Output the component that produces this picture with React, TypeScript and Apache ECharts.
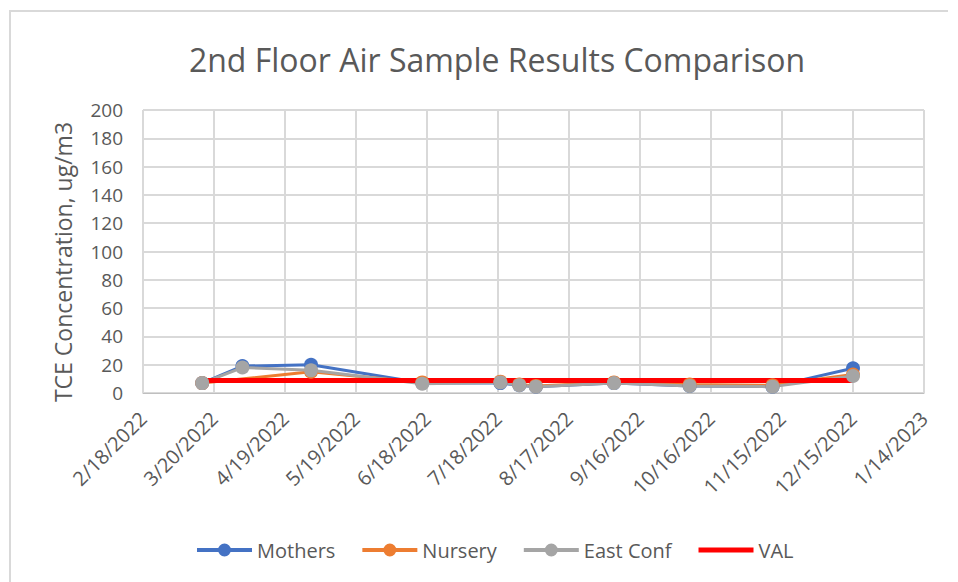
import React, { useEffect, useRef } from "react";
import * as echarts from "echarts";

const dates = [
  "2022-03-15", "2022-04-01", "2022-04-30", "2022-06-16", "2022-07-19",
  "2022-07-27", "2022-08-03", "2022-09-05", "2022-10-07", "2022-11-11", "2022-12-15",
];
const mothers = [7, 19, 20, 7, 7, 5.5, 4.5, 7, 5, 4.5, 17.5];
const nursery = [7, null, 15, 7.5, 8, 6, 5, 7.5, 6, 5.5, 13];
const eastConf = [7, 18, 16, 6.5, 7.5, 5.5, 4.5, 7, 5, 4.5, 12];
const valDates = ["2022-03-15", "2022-12-15"];
const valValues = [8.8, 8.8];

const xMinSerial = 44610; // 2/18/2022
const xMaxSerial = 44940; // 1/14/2023
const xInterval = 30;
const yTicks = [0, 20, 40, 60, 80, 100, 120, 140, 160, 180, 200];

const EPOCH = Date.UTC(1899, 11, 30);
const toSerial = (s: string) => {
  const [y, m, d] = s.split("-").map(Number);
  return Math.round((Date.UTC(y, m - 1, d) - EPOCH) / 86400000);
};
const fromSerial = (n: number) => {
  const dt = new Date(EPOCH + n * 86400000);
  return `${dt.getUTCMonth() + 1}/${dt.getUTCDate()}/${dt.getUTCFullYear()}`;
};

const FONT = "'Open Sans', sans-serif";
const TXT = "#595959";
const MARKER_ICON =
  "path://M0,5H55V9H0Z M21,7a6.5,6.5 0 1,1 13,0a6.5,6.5 0 1,1 -13,0Z";
const LINE_ICON = "path://M0,0H55V5H0Z";

export default function App() {
  const ref = useRef<HTMLDivElement>(null);
  useEffect(() => {
    const chart = echarts.init(ref.current!, undefined, { renderer: "svg" });
    const pair = (vals: (number | null)[]) =>
      dates.map((d, i) => [toSerial(d), vals[i]]);
    const lineSeries = (name: string, vals: (number | null)[], color: string) => ({
      name,
      type: "line",
      data: pair(vals),
      connectNulls: true,
      symbol: "circle",
      symbolSize: 14,
      lineStyle: { color, width: 3 },
      itemStyle: { color },
    });
    chart.setOption({
      animation: false,
      backgroundColor: "#ffffff",
      title: {
        text: "2nd Floor Air Sample Results Comparison",
        left: 492,
        textAlign: "center",
        top: 38,
        textStyle: { fontFamily: FONT, fontSize: 32, fontWeight: "normal", color: TXT },
      },
      legend: {
        top: 535,
        left: 192,
        itemGap: 27,
        itemWidth: 55,
        itemHeight: 13,
        symbolKeepAspect: true,
        textStyle: { fontFamily: FONT, fontSize: 20, color: TXT },
        data: [
          { name: "Mothers", icon: MARKER_ICON },
          { name: "Nursery", icon: MARKER_ICON },
          { name: "East Conf", icon: MARKER_ICON },
          { name: "VAL", icon: LINE_ICON },
        ],
      },
      graphic: [
        { type: "line", shape: { x1: 10, y1: 11, x2: 948, y2: 11 }, style: { stroke: "#d9d9d9", lineWidth: 2 } },
        { type: "line", shape: { x1: 10, y1: 10, x2: 10, y2: 582 }, style: { stroke: "#d9d9d9", lineWidth: 2 } },
        {
          type: "text",
          x: 63,
          y: 262,
          rotation: Math.PI / 2,
          style: {
            text: "TCE Concentration, ug/m3",
            fontFamily: FONT,
            fontSize: 23,
            fill: TXT,
            align: "center",
            verticalAlign: "middle",
          },
        },
      ],
      grid: { left: 143, right: 34, top: 110, bottom: 189 },
      xAxis: {
        type: "value",
        min: xMinSerial,
        max: xMaxSerial,
        interval: xInterval,
        axisLine: { show: true, lineStyle: { color: "#bfbfbf", width: 1 } },
        axisTick: { show: false },
        splitLine: { show: true, lineStyle: { color: "#d9d9d9", width: 2 } },
        axisLabel: {
          rotate: 45,
          margin: 22,
          fontFamily: FONT,
          fontSize: 20,
          color: TXT,
          formatter: (v: number) => fromSerial(v),
        },
      },
      yAxis: {
        type: "value",
        min: yTicks[0],
        max: yTicks[yTicks.length - 1],
        interval: 20,
        axisLine: { show: false },
        axisTick: { show: false },
        splitLine: { show: true, lineStyle: { color: "#d9d9d9", width: 2 } },
        axisLabel: { fontFamily: FONT, fontSize: 19, color: TXT, margin: 20 },
      },
      series: [
        lineSeries("Mothers", mothers, "#4472c4"),
        lineSeries("Nursery", nursery, "#ed7d31"),
        lineSeries("East Conf", eastConf, "#a5a5a5"),
        {
          name: "VAL",
          type: "line",
          data: valDates.map((d, i) => [toSerial(d), valValues[i]]),
          symbol: "none",
          lineStyle: { color: "#ff0000", width: 5 },
          itemStyle: { color: "#ff0000" },
        },
      ],
    });
    return () => chart.dispose();
  }, []);
  return (
    <div
      ref={ref}
      style={{ position: "fixed", left: 0, top: 0, width: 958, height: 582 }}
    />
  );
}
